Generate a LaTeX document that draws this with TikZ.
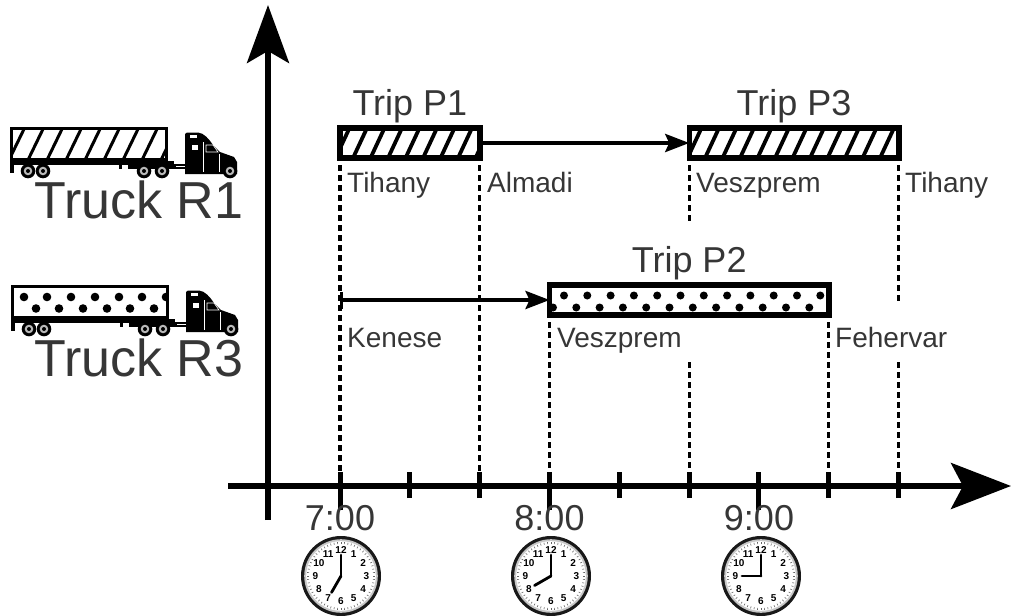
\documentclass[tikz,border=0pt]{standalone}
\usepackage{fontspec}
\setmainfont{Liberation Sans}
\usetikzlibrary{arrows.meta}
\definecolor{txt}{HTML}{363636}

\newcommand\myclock[2]{%
\begin{scope}[shift={#1}, yscale=-1]
  \fill[black!90] (0,0) circle (40);
  \fill[gray!45] (0,0) circle (36.8);
  \fill[white] (0,0) circle (34.8);
  \foreach \m in {0,...,59} \draw[line width=0.6pt, black!60] (\m*6:32) -- (\m*6:34);
  \foreach \n in {1,...,12} \node[font=\bfseries\fontsize{10}{10}\selectfont, inner sep=0pt] at ({90-30*\n}:25.5) {\n};
  \draw[line width=2.8pt, line cap=round] (0,0) -- ({90-30*#2}:19);
  \draw[line width=2.8pt, line cap=round] (0,0) -- (90:21);
\end{scope}}

\newcommand\mytruck[2]{%
\begin{scope}[shift={#1}]
  \fill[black] (0,34) rectangle (164,37.5);
  \fill[black] (0,35) rectangle (3.5,46);
  \fill[black] (109,36) rectangle (112,42);
  \fill[black] (118,37) rectangle (224,42);
  \draw[white, line width=0.6pt] (166,39) -- (222,39);
  \draw[line width=2.8pt, fill=white] (1.4,1.4) rectangle (156.6,32.4);
  \begin{scope}\clip (2.8,2.8) rectangle (155.2,31); #2 \end{scope}
  \draw[line width=2.8pt] (1.4,1.4) rectangle (156.6,32.4);
  \fill[black] (175,47) -- (175,7) -- (177,5.5) -- (188,5.5)
     .. controls (194,6) and (199,12) .. (203,18) -- (210,25) -- (224,30)
     -- (227,35) -- (227,47) -- cycle;
  \fill[white] (180,8) rectangle (187,11);
  \fill[white] (182,18) rectangle (188,23);
  \draw[white, line width=0.6pt] (196,18) -- (203,18) -- (208,25) -- (196,25) -- cycle;
  \draw[white, line width=0.5pt] (193,15) -- (193,45);
  \draw[white, line width=0.5pt] (209,27) -- (209,45);
  \foreach \wx in {18,33,134,152,220} {
    \fill[black] (\wx,44) circle (7.3);
    \fill[gray!55] (\wx,44) circle (4.3);
    \fill[black] (\wx,44) circle (2);
  }
\end{scope}}

\begin{document}
\begin{tikzpicture}[x=1pt,y=-1pt,
  lbl/.style={text=txt, inner sep=0pt, font=\fontsize{28}{30}\selectfont, anchor=base west},
  triplbl/.style={text=txt, inner sep=0pt, font=\fontsize{36}{40}\selectfont, anchor=base},
  trucklbl/.style={text=txt, inner sep=0pt, font=\fontsize{52}{56}\selectfont, anchor=base},
  timelbl/.style={text=txt, inner sep=0pt, font=\fontsize{36}{40}\selectfont, anchor=base},
  tripbox/.style={draw=black, line width=5.5pt, fill=white, inner sep=0pt, outer sep=0pt},
  guide/.style={line width=3.2pt, dash pattern=on 6pt off 4pt},
  conn/.style={line width=4pt},
  axisline/.style={line width=5.5pt},
  tickmark/.style={line width=5pt},
  hatch/.style={line width=3.8pt},
]
\useasboundingbox (0,0) rectangle (1013,616);

% axes
\coordinate (Ybot) at (268,520);
\coordinate (Ytop) at (268,5);
\coordinate (Xleft) at (228,486);
\coordinate (Xright) at (1011,486);
\draw[axisline, -{Stealth[length=58pt,width=42pt,inset=12pt]}] (Ybot) -- (Ytop);
\draw[axisline, -{Stealth[length=60pt,width=46pt,inset=12pt]}] (Xleft) -- (Xright);

% ticks
\foreach \k in {0,...,8} {
  \coordinate (t\k) at ({340+69.83*\k},486);
}
\foreach \k in {1,2,4,5,7,8} \draw[tickmark] ([yshift=-12pt]t\k) -- ([yshift=14pt]t\k);
\foreach \k in {0,3,6} \draw[tickmark] ([yshift=-24pt]t\k) -- ([yshift=14pt]t\k);

% trip boxes
\node[tripbox, minimum width=139.7pt, minimum height=30pt] (P1) at (409.9,143) {};
\node[tripbox, minimum width=209.5pt, minimum height=30pt] (P3) at (794,143) {};
\node[tripbox, minimum width=279.3pt, minimum height=30pt] (P2) at (689.2,300) {};

\begin{scope}
  \clip (P1.south west) rectangle (P1.north east);
  \foreach \x in {318,335.5,...,490} \draw[hatch] (\x,158) -- ++(14,-30);
\end{scope}
\begin{scope}
  \clip (P3.south west) rectangle (P3.north east);
  \foreach \x in {670,687.5,...,910} \draw[hatch] (\x,158) -- ++(14,-30);
\end{scope}
\begin{scope}
  \clip (P2.south west) rectangle (P2.north east);
  \foreach \i in {0,...,11} \fill ({564+23.3*\i},295.5) circle (4);
  \foreach \i in {0,...,12} \fill ({553+23.3*\i},307.5) circle (4);
\end{scope}
\draw[line width=5.5pt] (P1.south west) rectangle (P1.north east);
\draw[line width=5.5pt] (P3.south west) rectangle (P3.north east);
\draw[line width=5.5pt] (P2.south west) rectangle (P2.north east);

% guides
\draw[guide] ([yshift=2.8pt]P1.south west) -- (P1.south west |- t0);
\draw[guide] ([yshift=2.8pt]P1.south east) -- (P1.south east |- t0);
\draw[guide] ([yshift=2.8pt]P2.south west) -- (P2.south west |- t0);
\draw[guide] ([yshift=2.8pt]P2.south east) -- (P2.south east |- t0);
\draw[guide] ([yshift=2.8pt]P3.south west) -- ++(0,68);
\draw[guide] (P3.south west |- 0,362) -- (P3.south west |- t0);
\draw[guide] ([yshift=2.8pt]P3.south east) -- ++(0,148);
\draw[guide] (P3.south east |- 0,362) -- (P3.south east |- t0);

% connectors
\draw[conn, -{Stealth[length=24pt,width=18pt,inset=4pt]}] (P1.east) -- (P3.west);
\coordinate (K) at (340,300);
\draw[conn, {Bar[width=17pt,line width=3.2pt]}-{Stealth[length=24pt,width=18pt,inset=4pt]}] (K) -- (P2.west);

% labels
\node[triplbl] (lP1) at (409.9,115) {Trip P1};
\node[triplbl] (lP3) at (794,115) {Trip P3};
\node[triplbl] (lP2) at (689.2,272) {Trip P2};

\node[lbl] (a1) at (347,192) {Tihany};
\node[lbl] (a2) at (487,192) {Almadi};
\node[lbl] (a3) at (696,192) {Veszprem};
\node[lbl] (a4) at (905,192) {Tihany};
\node[lbl] (b1) at (347,347) {Kenese};
\node[lbl] (b2) at (557,347) {Veszprem};
\node[lbl] (b3) at (835,347) {Fehervar};

\node[timelbl] (h7) at (340,530) {7:00};
\node[timelbl] (h8) at (549.5,530) {8:00};
\node[timelbl] (h9) at (759,530) {9:00};

% trucks
\mytruck{(10,127)}{\foreach \x in {-20,-1,...,170} \draw[line width=3pt] (\x,33) -- ++(16,-33);}
\node[trucklbl] (R1) at (139,218) {Truck R1};
\mytruck{(11,285)}{%
  \foreach \x in {13,36,60,84,108,131,155} \fill (\x,12) circle (4.3);
  \foreach \x in {25,48,72,96,119,143} \fill (\x,23.5) circle (4.3);}
\node[trucklbl] (R3) at (139,376) {Truck R3};

% clocks
\myclock{(341,576)}{7}
\myclock{(551,576)}{8}
\myclock{(761,576)}{9}
\end{tikzpicture}
\end{document}
